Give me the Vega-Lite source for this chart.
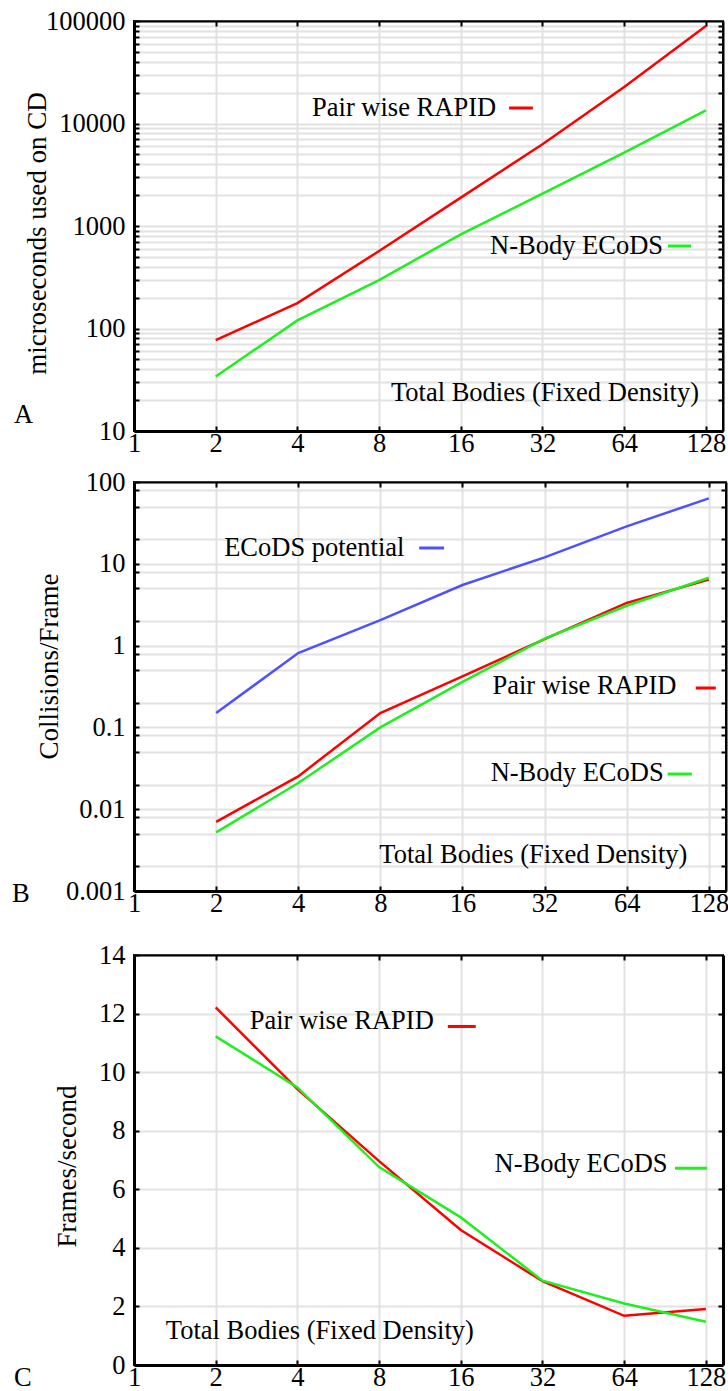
{
  "$schema": "https://vega.github.io/schema/vega-lite/v6.json",
  "background": "white",
  "padding": {"left": 10, "top": 7, "right": 0, "bottom": 0},
  "config": {
    "font": "Liberation Serif",
    "view": {"stroke": "#000000", "strokeWidth": 2},
    "axis": {
      "labelFont": "Liberation Serif", "labelFontSize": 26.5, "labelColor": "#000000",
      "titleFont": "Liberation Serif", "titleFontSize": 27, "titleFontWeight": "normal", "titleColor": "#000000",
      "gridColor": "#e2e2e2", "gridWidth": 2, "gridOpacity": 1,
      "domainColor": "#000000", "domainWidth": 3,
      "tickColor": "#000000", "tickWidth": 2, "tickSize": -5,
      "labelFlush": false, "labelOverlap": false, "labelBound": false
    },
    "axisX": {"labelPadding": 4},
    "axisY": {"labelPadding": 14},
    "text": {"font": "Liberation Serif", "fontSize": 26.5}
  },
  "datasets": {
    "a_lines": [
      {"n": 2, "v": 77, "s": "RAPID"}, {"n": 4, "v": 177, "s": "RAPID"}, {"n": 8, "v": 570, "s": "RAPID"},
      {"n": 16, "v": 1890, "s": "RAPID"}, {"n": 32, "v": 6270, "s": "RAPID"}, {"n": 64, "v": 22700, "s": "RAPID"},
      {"n": 128, "v": 89300, "s": "RAPID"},
      {"n": 2, "v": 34, "s": "ECoDS"}, {"n": 4, "v": 120, "s": "ECoDS"}, {"n": 8, "v": 297, "s": "ECoDS"},
      {"n": 16, "v": 830, "s": "ECoDS"}, {"n": 32, "v": 2065, "s": "ECoDS"}, {"n": 64, "v": 5190, "s": "ECoDS"},
      {"n": 128, "v": 13460, "s": "ECoDS"}
    ],
    "a_keys": [
      {"x1": 24.1, "x2": 29.5, "y": 14160, "s": "RAPID"},
      {"x1": 92.8, "x2": 112.8, "y": 638, "s": "ECoDS"}
    ],
    "a_text": [
      {"x": 4.53, "y": 11830, "t": "Pair wise RAPID"},
      {"x": 20.5, "y": 533, "t": "N-Body ECoDS"},
      {"x": 8.85, "y": 19.6, "t": "Total Bodies (Fixed Density)"},
      {"x": 0.361, "y": 12.05, "t": "A"}
    ],
    "b_lines": [
      {"n": 2, "v": 0.15, "s": "potential"}, {"n": 4, "v": 0.81, "s": "potential"}, {"n": 8, "v": 2.05, "s": "potential"},
      {"n": 16, "v": 5.5, "s": "potential"}, {"n": 32, "v": 12.0, "s": "potential"}, {"n": 64, "v": 28.7, "s": "potential"},
      {"n": 128, "v": 63, "s": "potential"},
      {"n": 2, "v": 0.0070, "s": "RAPID"}, {"n": 4, "v": 0.0252, "s": "RAPID"}, {"n": 8, "v": 0.15, "s": "RAPID"},
      {"n": 16, "v": 0.42, "s": "RAPID"}, {"n": 32, "v": 1.2, "s": "RAPID"}, {"n": 64, "v": 3.32, "s": "RAPID"},
      {"n": 128, "v": 6.4, "s": "RAPID"},
      {"n": 2, "v": 0.0052, "s": "ECoDS"}, {"n": 4, "v": 0.0209, "s": "ECoDS"}, {"n": 8, "v": 0.10, "s": "ECoDS"},
      {"n": 16, "v": 0.36, "s": "ECoDS"}, {"n": 32, "v": 1.22, "s": "ECoDS"}, {"n": 64, "v": 3.07, "s": "ECoDS"},
      {"n": 128, "v": 6.76, "s": "ECoDS"}
    ],
    "b_keys": [
      {"x1": 11.1, "x2": 13.7, "y": 15.6, "s": "potential"},
      {"x1": 114.7, "x2": 135.8, "y": 0.303, "s": "RAPID"},
      {"x1": 90.5, "x2": 110.9, "y": 0.0269, "s": "ECoDS"}
    ],
    "b_text": [
      {"x": 2.14, "y": 12.5, "t": "ECoDS potential"},
      {"x": 20.6, "y": 0.256, "t": "Pair wise RAPID"},
      {"x": 20.3, "y": 0.0221, "t": "N-Body ECoDS"},
      {"x": 7.93, "y": 0.0022, "t": "Total Bodies (Fixed Density)"},
      {"x": 0.357, "y": 0.000734, "t": "B"}
    ],
    "c_lines": [
      {"n": 2, "v": 12.21, "s": "RAPID"}, {"n": 4, "v": 9.42, "s": "RAPID"}, {"n": 8, "v": 6.96, "s": "RAPID"},
      {"n": 16, "v": 4.61, "s": "RAPID"}, {"n": 32, "v": 2.86, "s": "RAPID"}, {"n": 64, "v": 1.68, "s": "RAPID"},
      {"n": 128, "v": 1.91, "s": "RAPID"},
      {"n": 2, "v": 11.22, "s": "ECoDS"}, {"n": 4, "v": 9.48, "s": "ECoDS"}, {"n": 8, "v": 6.76, "s": "ECoDS"},
      {"n": 16, "v": 5.04, "s": "ECoDS"}, {"n": 32, "v": 2.88, "s": "ECoDS"}, {"n": 64, "v": 2.1, "s": "ECoDS"},
      {"n": 128, "v": 1.48, "s": "ECoDS"}
    ],
    "c_keys": [
      {"x1": 14.33, "x2": 18.16, "y": 11.56, "s": "RAPID"},
      {"x1": 98.5, "x2": 129.1, "y": 6.72, "s": "ECoDS"}
    ],
    "c_text": [
      {"x": 2.67, "y": 11.47, "t": "Pair wise RAPID"},
      {"x": 21.3, "y": 6.59, "t": "N-Body ECoDS"},
      {"x": 1.31, "y": 0.89, "t": "Total Bodies (Fixed Density)"},
      {"x": 0.361, "y": -0.71, "t": "C"}
    ]
  },
  "concat": [
    {
      "width": 589, "height": 410,
      "resolve": {"axis": {"x": "independent", "y": "independent"}},
      "layer": [
        {
          "data": {"name": "a_lines"},
          "mark": {"type": "line", "strokeWidth": 2.5},
          "encoding": {
            "x": {"field": "n", "type": "quantitative", "scale": {"type": "log", "domain": [1, 148], "nice": false},
              "axis": {"values": [1, 2, 4, 8, 16, 32, 64, 128], "format": "d", "title": null}},
            "y": {"field": "v", "type": "quantitative", "scale": {"type": "log", "domain": [10, 100000], "nice": false},
              "axis": {"values": [10, 20, 30, 40, 50, 60, 70, 80, 90, 100, 200, 300, 400, 500, 600, 700, 800, 900, 1000, 2000, 3000, 4000, 5000, 6000, 7000, 8000, 9000, 10000, 20000, 30000, 40000, 50000, 60000, 70000, 80000, 90000, 100000],
                "format": "d", "labelExpr": "indexof([10, 100, 1000, 10000, 100000], datum.value) >= 0 ? datum.label : ''",
                "title": "microseconds used on CD", "titleBaseline": "alphabetic", "titleX": -88.5, "titleY": 212}},
            "color": {"field": "s", "type": "nominal", "scale": {"domain": ["RAPID", "ECoDS", "potential"], "range": ["#ff0000", "#1ef01e", "#5050ff"]}, "legend": null}
          }
        },
        {
          "data": {"name": "a_lines"},
          "mark": {"type": "line", "opacity": 0},
          "encoding": {
            "x": {"field": "n", "type": "quantitative", "scale": {"type": "log", "domain": [1, 148], "nice": false},
              "axis": {"orient": "top", "values": [2, 4, 8, 16, 32, 64, 128], "labels": false, "grid": false, "title": null, "domainWidth": 2, "zindex": 1}},
            "y": {"field": "v", "type": "quantitative", "scale": {"type": "log", "domain": [10, 100000], "nice": false},
              "axis": {"orient": "right", "values": [20, 30, 40, 50, 60, 70, 80, 90, 100, 200, 300, 400, 500, 600, 700, 800, 900, 1000, 2000, 3000, 4000, 5000, 6000, 7000, 8000, 9000, 10000, 20000, 30000, 40000, 50000, 60000, 70000, 80000, 90000],
                "labels": false, "grid": false, "title": null, "domainWidth": 2, "zindex": 1}}
          }
        },
        {
          "data": {"name": "a_keys"},
          "mark": {"type": "rule", "strokeWidth": 3},
          "encoding": {
            "x": {"field": "x1", "type": "quantitative", "scale": {"type": "log", "domain": [1, 148], "nice": false}, "axis": null},
            "x2": {"field": "x2"},
            "y": {"field": "y", "type": "quantitative", "scale": {"type": "log", "domain": [10, 100000], "nice": false}, "axis": null},
            "color": {"field": "s", "type": "nominal", "legend": null}
          }
        },
        {
          "data": {"name": "a_text"},
          "mark": {"type": "text", "align": "left", "baseline": "alphabetic", "color": "#000000"},
          "encoding": {
            "x": {"field": "x", "type": "quantitative", "scale": {"type": "log", "domain": [1, 148], "nice": false}, "axis": null},
            "y": {"field": "y", "type": "quantitative", "scale": {"type": "log", "domain": [10, 100000], "nice": false}, "axis": null},
            "text": {"field": "t", "type": "nominal"}
          }
        }
      ]
    },
    {
      "columns": 1,
      "align": "none",
      "spacing": 23,
      "concat": [
        {
          "width": 592, "height": 409,
          "resolve": {"axis": {"x": "independent", "y": "independent"}},
          "layer": [
            {
              "data": {"name": "b_lines"},
              "mark": {"type": "line", "strokeWidth": 2.5},
              "encoding": {
                "x": {"field": "n", "type": "quantitative", "scale": {"type": "log", "domain": [1, 148], "nice": false},
                  "axis": {"values": [1, 2, 4, 8, 16, 32, 64, 128], "format": "d", "title": null}},
                "y": {"field": "v", "type": "quantitative", "scale": {"type": "log", "domain": [0.001, 100], "nice": false},
                  "axis": {"values": [0.001, 0.002, 0.005, 0.008, 0.01, 0.02, 0.05, 0.08, 0.1, 0.2, 0.5, 0.8, 1, 2, 5, 8, 10, 20, 50, 80, 100],
                    "format": "~g", "labelExpr": "indexof([0.001, 0.01, 0.1, 1, 10, 100], datum.value) >= 0 ? datum.label : ''",
                    "title": "Collisions/Frame", "titleBaseline": "alphabetic", "titleX": -77, "titleY": 184}},
                "color": {"field": "s", "type": "nominal", "scale": {"domain": ["RAPID", "ECoDS", "potential"], "range": ["#ff0000", "#1ef01e", "#5050ff"]}, "legend": null}
              }
            },
            {
              "data": {"name": "b_lines"},
              "mark": {"type": "line", "opacity": 0},
              "encoding": {
                "x": {"field": "n", "type": "quantitative", "scale": {"type": "log", "domain": [1, 148], "nice": false},
                  "axis": {"orient": "top", "values": [2, 4, 8, 16, 32, 64, 128], "labels": false, "grid": false, "title": null, "domainWidth": 2, "zindex": 1}},
                "y": {"field": "v", "type": "quantitative", "scale": {"type": "log", "domain": [0.001, 100], "nice": false},
                  "axis": {"orient": "right", "values": [0.002, 0.005, 0.008, 0.01, 0.02, 0.05, 0.08, 0.1, 0.2, 0.5, 0.8, 1, 2, 5, 8, 10, 20, 50, 80],
                    "labels": false, "grid": false, "title": null, "domainWidth": 2, "zindex": 1}}
              }
            },
            {
              "data": {"name": "b_keys"},
              "mark": {"type": "rule", "strokeWidth": 3},
              "encoding": {
                "x": {"field": "x1", "type": "quantitative", "scale": {"type": "log", "domain": [1, 148], "nice": false}, "axis": null},
                "x2": {"field": "x2"},
                "y": {"field": "y", "type": "quantitative", "scale": {"type": "log", "domain": [0.001, 100], "nice": false}, "axis": null},
                "color": {"field": "s", "type": "nominal", "legend": null}
              }
            },
            {
              "data": {"name": "b_text"},
              "mark": {"type": "text", "align": "left", "baseline": "alphabetic", "color": "#000000"},
              "encoding": {
                "x": {"field": "x", "type": "quantitative", "scale": {"type": "log", "domain": [1, 148], "nice": false}, "axis": null},
                "y": {"field": "y", "type": "quantitative", "scale": {"type": "log", "domain": [0.001, 100], "nice": false}, "axis": null},
                "text": {"field": "t", "type": "nominal"}
              }
            }
          ]
        },
        {
          "width": 589, "height": 410,
          "resolve": {"axis": {"x": "independent", "y": "independent"}},
          "layer": [
            {
              "data": {"name": "c_lines"},
              "mark": {"type": "line", "strokeWidth": 2.5},
              "encoding": {
                "x": {"field": "n", "type": "quantitative", "scale": {"type": "log", "domain": [1, 148], "nice": false},
                  "axis": {"values": [1, 2, 4, 8, 16, 32, 64, 128], "format": "d", "title": null}},
                "y": {"field": "v", "type": "quantitative", "scale": {"domain": [0, 14], "nice": false, "zero": false},
                  "axis": {"values": [0, 2, 4, 6, 8, 10, 12, 14],
                    "title": "Frames/second", "titleBaseline": "alphabetic", "titleX": -59, "titleY": 211}},
                "color": {"field": "s", "type": "nominal", "scale": {"domain": ["RAPID", "ECoDS", "potential"], "range": ["#ff0000", "#1ef01e", "#5050ff"]}, "legend": null}
              }
            },
            {
              "data": {"name": "c_lines"},
              "mark": {"type": "line", "opacity": 0},
              "encoding": {
                "x": {"field": "n", "type": "quantitative", "scale": {"type": "log", "domain": [1, 148], "nice": false},
                  "axis": {"orient": "top", "values": [2, 4, 8, 16, 32, 64, 128], "labels": false, "grid": false, "title": null, "domainWidth": 2, "zindex": 1}},
                "y": {"field": "v", "type": "quantitative", "scale": {"domain": [0, 14], "nice": false, "zero": false},
                  "axis": {"orient": "right", "values": [2, 4, 6, 8, 10, 12],
                    "labels": false, "grid": false, "title": null, "domainWidth": 3, "zindex": 1}}
              }
            },
            {
              "data": {"name": "c_keys"},
              "mark": {"type": "rule", "strokeWidth": 3},
              "encoding": {
                "x": {"field": "x1", "type": "quantitative", "scale": {"type": "log", "domain": [1, 148], "nice": false}, "axis": null},
                "x2": {"field": "x2"},
                "y": {"field": "y", "type": "quantitative", "scale": {"domain": [0, 14], "nice": false, "zero": false}, "axis": null},
                "color": {"field": "s", "type": "nominal", "legend": null}
              }
            },
            {
              "data": {"name": "c_text"},
              "mark": {"type": "text", "align": "left", "baseline": "alphabetic", "color": "#000000"},
              "encoding": {
                "x": {"field": "x", "type": "quantitative", "scale": {"type": "log", "domain": [1, 148], "nice": false}, "axis": null},
                "y": {"field": "y", "type": "quantitative", "scale": {"domain": [0, 14], "nice": false, "zero": false}, "axis": null},
                "text": {"field": "t", "type": "nominal"}
              }
            }
          ]
        }
      ]
    }
  ],
  "columns": 1,
  "align": "none",
  "spacing": 10
}
